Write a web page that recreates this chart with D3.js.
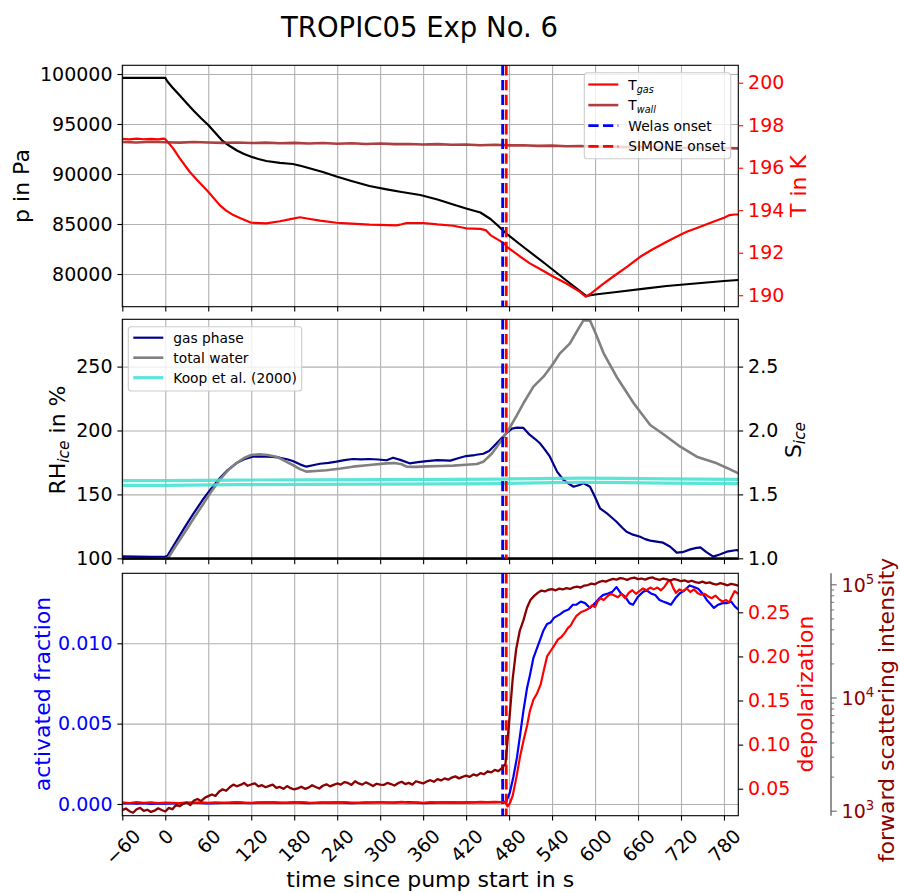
<!DOCTYPE html>
<html>
<head>
<meta charset="utf-8">
<script src="https://cdn.jsdelivr.net/npm/d3@7"></script>
<style>
  body { margin: 0; background: #fff; }
  svg { display: block; font-family: "DejaVu Sans", sans-serif; }
</style>
</head>
<body>
<svg id="fig" width="900" height="893"></svg>
<script>
// ---------- tick values ----------
const xTicks = [-60, 0, 60, 120, 180, 240, 300, 360, 420, 480, 540, 600, 660, 720, 780];
const pressureTicks = [80000, 85000, 90000, 95000, 100000];
const tempTicks = [190, 192, 194, 196, 198, 200];
const rhTicks = [100, 150, 200, 250];
const sIceTicks = [1.0, 1.5, 2.0, 2.5];
const afTicks = [0.000, 0.005, 0.010];
const depolTicks = [0.05, 0.10, 0.15, 0.20, 0.25];
const fsiMajorTicks = [1e3, 1e4, 1e5];
const fsiMinorTicks = [2e3, 3e3, 4e3, 5e3, 6e3, 7e3, 8e3, 9e3, 2e4, 3e4, 4e4, 5e4, 6e4, 7e4, 8e4, 9e4];

// ---------- onset times (s) ----------
const welasOnset = 471;
const simoneOnset = 476;
const iceSaturation = 100;

// ---------- chamber pressure (Pa) ----------
const pressureTime = [-60,-30,0,3,10,20,30,40,50,60,70,80,90,100,110,120,130,141,160,178,190,200,220,239,260,285,309,330,356,380,402,420,440,454,465,476,500,530,560,588,600,630,672,700,740,780,800];
const pressureVal = [99620,99620,99610,99250,98650,97870,97070,96300,95580,94900,94100,93300,92800,92350,92000,91730,91500,91300,91120,91000,90800,90600,90200,89750,89300,88800,88470,88200,87900,87450,86950,86550,86150,85500,84800,84050,82700,81050,79350,77800,77950,78200,78570,78800,79050,79300,79400];

// ---------- gas temperature (K) ----------
const tGasTime = [-60,-50,-40,-30,-20,-10,-2,0,5,11,20,34,45,60,76,85,95,105,120,141,160,175,188,200,216,239,260,285,310,323,330,337,360,380,402,420,440,448,454,473,477,496,509,525,542,560,579,587,595,610,625,645,663,680,700,715,728,745,765,780,788,795,800];
const tGasVal = [197.36,197.33,197.37,197.34,197.36,197.33,197.37,197.34,197.15,196.91,196.45,195.81,195.40,194.87,194.24,193.98,193.77,193.62,193.41,193.38,193.48,193.58,193.67,193.60,193.51,193.41,193.37,193.32,193.30,193.29,193.34,193.40,193.40,193.33,193.27,193.15,193.12,193.05,192.83,192.44,192.28,191.81,191.50,191.20,190.87,190.55,190.16,189.93,190.10,190.50,190.87,191.35,191.81,192.15,192.52,192.78,192.99,193.20,193.46,193.65,193.77,193.80,193.80];

// ---------- wall temperature (K) ----------
const tWallTime = [-60,-40,-20,0,20,40,60,80,100,120,140,160,180,200,220,240,260,280,300,320,340,360,380,400,420,440,460,480,500,520,540,560,580,600,620,640,660,680,700,720,740,760,780,800];
const tWallVal = [197.21,197.19,197.22,197.20,197.18,197.21,197.19,197.17,197.19,197.16,197.18,197.15,197.17,197.14,197.16,197.13,197.15,197.12,197.14,197.11,197.12,197.09,197.11,197.08,197.09,197.06,197.08,197.05,197.06,197.03,197.04,197.01,197.02,196.99,197.00,196.97,196.98,196.95,196.96,196.93,196.95,196.92,196.93,196.91];

// ---------- RH ice, gas phase (%) ----------
const gasTime = [-60,-40,-20,0,3,15,29,40,52,64,76,87,99,110,122,131,141,150,160,170,178,188,197,206,216,228,239,250,262,273,285,297,309,318,328,341,353,365,380,398,410,420,432,444,452,458,466,477,484,491,500,509,516,523,530,537,547,556,563,570,577,584,593,600,607,618,630,637,644,653,663,670,677,686,695,705,714,722,733,740,747,755,765,774,784,798,800];
const gasVal = [101.5,101.3,101.2,101.4,102,113,126,135.5,145.6,154.5,162.6,169,174.3,177.5,179.5,179.8,179.5,179.3,178.7,177.5,176.1,173.5,171.7,172.8,174,174.7,175.6,176.8,177.7,177.4,177.7,177.3,176.7,178.7,177,174.3,175.2,176.1,176.8,176.4,178.5,180,180.8,181.8,184,187.3,192,198.3,201.5,202.2,202,196.5,193.5,190,185,179.5,167.8,161.3,158.5,156,157.2,158.7,156,148,139,134.5,128.6,124.5,120.8,118.5,116.9,115,113.8,113,112.2,109,104.4,104.8,107,108,108.6,105,101.3,103,105.2,106.5,106];

// ---------- RH ice, total water (%) ----------
const totalTime = [-60,-30,0,3,15,29,40,52,64,76,87,99,110,120,131,143,155,166,178,188,197,210,225,245,262,285,309,320,330,337,350,365,385,402,420,435,444,449,456,463,470,479,490,500,514,528,540,551,565,575,584,593,600,612,630,654,677,695,719,742,770,785,798,800];
const totalVal = [98.8,98.7,98.8,99.3,110,122,131.5,141.7,152,161.3,168.5,174.3,178.5,180.8,181.4,180.8,179.5,176.5,173,169.8,167.8,168.3,168.9,170.2,171.7,173,174.3,174.5,173.6,171.7,171.5,171.9,172.2,172.5,173.2,173.8,175.6,178.2,182,187.3,193,200.4,211,221.3,234.3,242.1,251,260.4,268.2,278,286.3,286,277,260.4,242.1,221.3,204.3,197.3,187.3,179.5,174.3,170.5,167,166.5];

// ---------- Koop et al. (2000) homogeneous freezing threshold (%) ----------
const koopTime = [-60,0,100,200,300,400,470,520,580,640,700,800];
const koopGasVal = [160.8,160.8,161.2,161.4,161.6,161.8,162.0,162.4,162.8,162.6,162.2,161.8];
const koopWallVal = [157.0,157.0,157.6,157.9,158.1,158.3,158.5,159.0,159.5,159.2,158.8,158.4];

// ---------- activated fraction ----------
const afTime = [-60,-50,-40,-30,-20,-10,0,20,40,60,80,100,120,140,160,180,200,220,240,260,280,300,320,340,360,380,400,420,440,460,470,476,481,486,491,496,500,505,509,514,519,524,528,533,538,543,551,557,563,569,574,580,586,593,600,606,611,618,624,630,636,642,648,653,660,667,672,678,684,690,695,701,706,712,718,725,732,738,744,750,756,762,766,772,778,784,790,795,800];
const afVal = [0.00003,0.00006,0.00002,0.00005,0.00001,0.00004,0.00002,0.00005,0.00008,0.00004,0.00007,0.00009,0.00006,0.0001,0.00007,0.0001,0.00006,0.00008,0.0001,0.00005,0.00009,0.00011,0.00008,0.00012,0.00005,0.00009,0.0001,0.00008,0.00011,0.0001,0.00012,0.00015,0.0007,0.0017,0.0029,0.0045,0.0058,0.0072,0.0080,0.0091,0.0097,0.0103,0.0108,0.0112,0.0113,0.0116,0.0118,0.0120,0.0121,0.0124,0.0124,0.0126,0.0125,0.0122,0.0125,0.0128,0.0130,0.0131,0.0132,0.0135,0.0131,0.0129,0.0125,0.0124,0.0129,0.0132,0.0133,0.0131,0.0130,0.0127,0.0126,0.0125,0.0124,0.0128,0.0131,0.0133,0.0136,0.0135,0.0134,0.0131,0.0127,0.0124,0.0122,0.0124,0.0125,0.0125,0.0126,0.0123,0.0121];

// ---------- depolarization ----------
const depolTime = [-60,-50,-40,-30,-20,-10,0,10,20,30,40,50,60,70,80,90,100,110,120,130,140,150,160,170,180,190,200,210,220,230,240,250,260,270,280,290,300,310,320,330,340,350,360,370,380,390,400,410,420,430,440,450,460,470,
  475,478,481,485,490,495,500,505,509,514,519,524,529,533,537,542,548,553,558,562,566,570,574,580,586,591,596,600,604,608,612,617,622,627,632,637,642,647,652,657,662,667,672,677,682,687,692,697,702,705,709,713,718,723,728,733,738,743,748,753,758,763,768,773,778,783,787,791,795,800];
const depolVal = [0.0345,0.0338,0.0348,0.0341,0.0346,0.0337,0.0343,0.0339,0.0336,0.0342,0.0338,0.0344,0.0340,0.0346,0.0341,0.0343,0.0348,0.0342,0.0339,0.0345,0.0341,0.0347,0.0342,0.0338,0.0344,0.0349,0.0343,0.0340,0.0346,0.0341,0.0344,0.0348,0.0343,0.0339,0.0345,0.0342,0.0347,0.0341,0.0344,0.0350,0.0343,0.0346,0.0341,0.0347,0.0344,0.0349,0.0345,0.0342,0.0348,0.0346,0.0351,0.0347,0.0352,0.0349,
  0.034,0.030,0.0335,0.042,0.062,0.085,0.104,0.121,0.138,0.151,0.158,0.168,0.186,0.200,0.205,0.211,0.219,0.222,0.227,0.232,0.235,0.241,0.246,0.250,0.252,0.254,0.258,0.256,0.263,0.266,0.264,0.268,0.271,0.269,0.267,0.271,0.266,0.272,0.275,0.271,0.274,0.277,0.275,0.278,0.276,0.278,0.275,0.279,0.285,0.286,0.278,0.272,0.276,0.274,0.277,0.273,0.276,0.272,0.270,0.271,0.268,0.266,0.269,0.265,0.262,0.264,0.261,0.268,0.274,0.271];

// ---------- forward scattering intensity (counts) ----------
const fsiTime = [-60,-55,-50,-45,-40,-35,-30,-25,-20,-15,-10,-5,0,5,10,15,20,25,30,35,40,45,50,55,60,65,70,75,80,85,90,95,100,105,110,115,120,125,130,135,140,145,150,155,160,165,170,175,180,185,190,195,200,205,210,215,220,225,230,235,240,245,250,255,260,265,270,275,280,285,290,295,300,305,310,315,320,325,330,335,340,345,350,355,360,365,370,375,380,385,390,395,400,405,410,415,420,425,430,435,440,445,450,455,460,465,470,475,480,485,490,495,500,505,510,515,520,525,530,535,540,545,550,555,560,565,570,575,580,585,590,595,600,605,610,615,620,625,630,635,640,645,650,655,660,665,670,675,680,685,690,695,700,705,710,715,720,725,730,735,740,745,750,755,760,765,770,775,780,785,790,795,800];
const fsiVal = [1010,1045,990,960,1030,1060,995,1020,975,1000,1050,1015,985,
  1060,1030,1125,1095,1150,1180,1120,1230,1270,1215,1300,1345,
  1390,1350,1470,1545,1500,1610,1700,1645,1690,1760,1660,1705,
  1745,1640,1680,1610,1655,1700,1590,1620,1560,1650,1580,1540,
  1575,1630,1560,1600,1680,1620,1570,1660,1710,1640,1690,1740,
  1700,1790,1760,1690,1820,1740,1700,1780,1720,1650,1730,1700,
  1690,1760,1720,1670,1750,1800,1720,1760,1700,1820,1780,1740,
  1810,1860,1800,1900,1850,1930,1880,1960,2010,1930,1990,2040,
  1990,2090,2040,2150,2100,2230,2180,2290,2240,2380,
  2600,6000,14500,27000,39000,48000,62000,73000,79000,84000,88000,86500,89500,90500,88500,91500,90000,92500,91000,94000,95500,93500,97500,98500,101500,100000,104500,107000,105500,109000,111500,110000,113500,112000,109500,113000,114500,111000,112500,110000,113500,115000,111500,109500,112500,110500,108000,111000,109500,106500,108500,105000,107500,104500,103000,105500,102500,104000,101000,99500,102500,100500,98000,101000,99500,97500];

// ---------- layout ----------
const FONT = '"DejaVu Sans", sans-serif';
const TICK_FS = 19, LABEL_FS = 22, LEGEND_FS = 13.8;
const TICK_LEN = 4.9, TICK_PAD = 4.9;
const L = 122.3, R = 738.3;
const PANELS = { top: [65.3, 306.7], mid: [319.3, 559.3], bot: [573.3, 815.7] };
const GRID = '#b0b0b0';
const C = {
  pressure: '#000000', tGas: '#ff0000', tWall: '#a52a2a',
  gas: '#00008b', total: '#808080', koop: '#40e0d0',
  af: '#0000ff', depol: '#ff0000', fsi: '#8b0000',
  welas: '#0000ff', simone: '#ff0000', thirdSpine: '#666666'
};

const svg = d3.select('#fig');
const zip = (t, v) => t.map((d, i) => [d, v[i]]);

const x = d3.scaleLinear().domain([-60, 800]).range([L, R]);

const yP = d3.scaleLinear().domain([76730, 100870]).range([PANELS.top[1], PANELS.top[0]]);
const yT = d3.scaleLinear().domain([189.46, 200.82]).range([PANELS.top[1], PANELS.top[0]]);
const yRH = d3.scaleLinear().domain([99.22, 287.0]).range([PANELS.mid[1], PANELS.mid[0]]);
const yS = d3.scaleLinear().domain([0.9922, 2.870]).range([PANELS.mid[1], PANELS.mid[0]]);
const yAF = d3.scaleLinear().domain([-0.000728, 0.014356]).range([PANELS.bot[1], PANELS.bot[0]]);
const yD = d3.scaleLinear().domain([0.01939, 0.29422]).range([PANELS.bot[1], PANELS.bot[0]]);
const yF = d3.scaleLog().domain([Math.pow(10, 2.9558), Math.pow(10, 5.0972)]).range([PANELS.bot[1], PANELS.bot[0]]);

const defs = svg.append('defs');
Object.entries(PANELS).forEach(([k, [y0, y1]]) => {
  defs.append('clipPath').attr('id', 'clip-' + k)
    .append('rect').attr('x', L).attr('y', y0).attr('width', R - L).attr('height', y1 - y0);
});

function styleAxis(g, tickColor, labelColor) {
  g.attr('font-family', FONT).attr('font-size', TICK_FS);
  g.select('.domain').remove();
  g.selectAll('.tick line').attr('stroke', tickColor).attr('stroke-width', 1.1);
  g.selectAll('.tick text').attr('fill', labelColor);
}

function drawGrid(key, yScale, yTicks) {
  const [y0, y1] = PANELS[key];
  const g = svg.append('g').attr('class', 'grid');
  const gx = g.append('g').attr('transform', `translate(0,${y1})`)
    .call(d3.axisBottom(x).tickValues(xTicks).tickSize(-(y1 - y0)).tickFormat(''));
  const gy = g.append('g').attr('transform', `translate(${L},0)`)
    .call(d3.axisLeft(yScale).tickValues(yTicks).tickSize(-(R - L)).tickFormat(''));
  [gx, gy].forEach(a => {
    a.select('.domain').remove();
    a.selectAll('.tick line').attr('stroke', GRID).attr('stroke-width', 1.1);
  });
}

function drawLine(key, data, yScale, color, width, opacity) {
  svg.append('path')
    .attr('clip-path', `url(#clip-${key})`)
    .attr('d', d3.line().x(d => x(d[0])).y(d => yScale(d[1]))(data))
    .attr('fill', 'none').attr('stroke', color).attr('stroke-width', width)
    .attr('stroke-opacity', opacity == null ? 1 : opacity)
    .attr('stroke-linejoin', 'round').attr('stroke-linecap', 'butt');
}

function drawOnsets(key) {
  const [y0, y1] = PANELS[key];
  [[welasOnset, C.welas], [simoneOnset, C.simone]].forEach(([t, col]) => {
    svg.append('line').attr('x1', x(t)).attr('x2', x(t)).attr('y1', y0).attr('y2', y1)
      .attr('stroke', col).attr('stroke-width', 2.8).attr('stroke-dasharray', '10.3 4.4');
  });
}

function drawFrame(key) {
  const [y0, y1] = PANELS[key];
  svg.append('rect').attr('x', L).attr('y', y0).attr('width', R - L).attr('height', y1 - y0)
    .attr('fill', 'none').attr('stroke', '#000').attr('stroke-width', 1.1);
}

function xTickMarks(key, withLabels) {
  const y1 = PANELS[key][1];
  const g = svg.append('g').attr('transform', `translate(0,${y1})`)
    .call(d3.axisBottom(x).tickValues(xTicks).tickSize(TICK_LEN).tickPadding(TICK_PAD)
      .tickFormat(d => withLabels ? (d < 0 ? '\u2212' + Math.abs(d) : String(d)) : ''));
  styleAxis(g, '#000', '#000');
  if (withLabels) {
    g.selectAll('.tick text').each(function () {
      const w = this.getComputedTextLength();
      const h = 1.07 * TICK_FS;
      const off = TICK_LEN + TICK_PAD + (w + h) / (2 * Math.SQRT2);
      d3.select(this).attr('y', 0).attr('dy', '0.36em').attr('text-anchor', 'middle')
        .attr('transform', `translate(0,${off}) rotate(-45)`);
    });
  }
}

function yAxisLeft(scale, ticks, fmt, labelColor) {
  const g = svg.append('g').attr('transform', `translate(${L},0)`)
    .call(d3.axisLeft(scale).tickValues(ticks).tickSize(TICK_LEN).tickPadding(TICK_PAD).tickFormat(fmt));
  styleAxis(g, '#000', labelColor);
  return g;
}
function yAxisRight(scale, ticks, fmt, tickColor, labelColor, xPos) {
  const g = svg.append('g').attr('transform', `translate(${xPos == null ? R : xPos},0)`)
    .call(d3.axisRight(scale).tickValues(ticks).tickSize(TICK_LEN).tickPadding(TICK_PAD).tickFormat(fmt));
  styleAxis(g, tickColor, labelColor);
  return g;
}

// rotated axis title, reading bottom to top
function yTitle(xPos, yPos, parts, color) {
  const t = svg.append('text').attr('transform', `translate(${xPos},${yPos}) rotate(-90)`)
    .attr('text-anchor', 'middle').attr('font-family', FONT).attr('font-size', LABEL_FS).attr('fill', color);
  parts.forEach(p => {
    const s = t.append('tspan').text(p.text);
    if (p.sub) s.attr('font-size', LABEL_FS * 0.7).attr('font-style', 'italic').attr('dy', 4);
    if (p.after) s.attr('dy', -4);
  });
  return t;
}

// ================= TOP PANEL: pressure and temperatures =================
drawGrid('top', yP, pressureTicks);
drawLine('top', zip(pressureTime, pressureVal), yP, C.pressure, 2.2);
drawLine('top', zip(tGasTime, tGasVal), yT, C.tGas, 2.2);
drawLine('top', zip(tWallTime, tWallVal), yT, C.tWall, 2.6, 0.9);
drawOnsets('top');
drawFrame('top');
xTickMarks('top', false);
yAxisLeft(yP, pressureTicks, d3.format('d'), '#000');
yAxisRight(yT, tempTicks, d3.format('d'), C.tGas, C.tGas);
yTitle(29, 186, [{ text: 'p in Pa' }], '#000');
yTitle(806, 186, [{ text: 'T in K' }], C.tGas);

// ================= MIDDLE PANEL: relative humidity =================
drawGrid('mid', yRH, rhTicks);
drawLine('mid', zip(gasTime, gasVal), yRH, C.gas, 2.2);
drawLine('mid', zip(totalTime, totalVal), yRH, C.total, 2.6);
drawLine('mid', zip(koopTime, koopGasVal), yRH, C.koop, 3.2, 0.85);
drawLine('mid', zip(koopTime, koopWallVal), yRH, C.koop, 3.2, 0.85);
drawLine('mid', [[-60, iceSaturation], [800, iceSaturation]], yRH, '#000', 2.0);
drawOnsets('mid');
drawFrame('mid');
xTickMarks('mid', false);
yAxisLeft(yRH, rhTicks, d3.format('d'), '#000');
yAxisRight(yS, sIceTicks, d3.format('.1f'), '#000', '#000');
yTitle(65, 440, [{ text: 'RH' }, { text: 'ice', sub: true }, { text: ' in %', after: true }], '#000');
yTitle(801, 440, [{ text: 'S' }, { text: 'ice', sub: true }], '#000');

// ================= BOTTOM PANEL: ice nucleation indicators =================
drawGrid('bot', yAF, afTicks);
drawLine('bot', zip(afTime, afVal), yAF, C.af, 2.2);
drawOnsets('bot');
drawLine('bot', zip(depolTime, depolVal), yD, C.depol, 2.2);
drawLine('bot', zip(fsiTime, fsiVal), yF, C.fsi, 2.3);
drawFrame('bot');
xTickMarks('bot', true);
yAxisLeft(yAF, afTicks, d3.format('.3f'), C.af);
yAxisRight(yD, depolTicks, d3.format('.2f'), '#000', C.depol);

// third (log) axis for forward scattering
const X3 = 831;
svg.append('line').attr('x1', X3).attr('x2', X3).attr('y1', PANELS.bot[0]).attr('y2', PANELS.bot[1])
  .attr('stroke', C.thirdSpine).attr('stroke-width', 1.4);
const gMinor = svg.append('g').attr('transform', `translate(${X3},0)`)
  .call(d3.axisRight(yF).tickValues(fsiMinorTicks).tickSize(3.2).tickFormat(''));
styleAxis(gMinor, C.thirdSpine, C.fsi);
gMinor.selectAll('.tick line').attr('stroke-width', 0.9);
const gMajor = svg.append('g').attr('transform', `translate(${X3},0)`)
  .call(d3.axisRight(yF).tickValues(fsiMajorTicks).tickSize(5.7).tickPadding(TICK_PAD).tickFormat(''));
styleAxis(gMajor, C.thirdSpine, C.fsi);
gMajor.selectAll('.tick').each(function (d) {
  const t = d3.select(this).append('text').attr('x', 5.7 + TICK_PAD).attr('dy', '0.36em')
    .attr('fill', C.fsi).attr('font-family', FONT).attr('font-size', TICK_FS);
  t.append('tspan').text('10');
  t.append('tspan').text(String(Math.round(Math.log10(d)))).attr('font-size', TICK_FS * 0.7).attr('dy', -8);
});

yTitle(50, 694, [{ text: 'activated fraction' }], C.af);
yTitle(813, 694, [{ text: 'depolarization' }], C.depol);
yTitle(894, 710, [{ text: 'forward scattering intensity' }], C.fsi);

// ================= titles =================
svg.append('text').attr('x', 419.5).attr('y', 37).attr('text-anchor', 'middle')
  .attr('font-family', FONT).attr('font-size', 27.5).attr('fill', '#000').text('TROPIC05 Exp No. 6');
svg.append('text').attr('x', (L + R) / 2).attr('y', 887).attr('text-anchor', 'middle')
  .attr('font-family', FONT).attr('font-size', LABEL_FS).attr('fill', '#000').text('time since pump start in s');

// ================= legends =================
function legend(box, rows) {
  const g = svg.append('g');
  g.append('rect').attr('x', box.x).attr('y', box.y).attr('width', box.w).attr('height', box.h)
    .attr('rx', 3).attr('fill', '#fff').attr('fill-opacity', 0.8).attr('stroke', '#cccccc').attr('stroke-width', 1.1);
  rows.forEach((r, i) => {
    const cy = box.row0 + i * box.dy;
    g.append('line').attr('x1', box.lx0).attr('x2', box.lx1).attr('y1', cy).attr('y2', cy)
      .attr('stroke', r.color).attr('stroke-width', r.width || 2.2)
      .attr('stroke-dasharray', r.dash ? '10.3 4.4' : null)
      .attr('stroke-opacity', r.opacity == null ? 1 : r.opacity);
    const t = g.append('text').attr('x', box.tx).attr('y', cy + 5)
      .attr('font-family', FONT).attr('font-size', LEGEND_FS).attr('fill', '#000');
    t.append('tspan').text(r.label);
    if (r.sub) t.append('tspan').text(r.sub).attr('font-style', 'italic').attr('font-size', LEGEND_FS * 0.7).attr('dy', 3);
  });
}

legend({ x: 584.3, y: 72.7, w: 146.4, h: 86, row0: 84.5, dy: 20.6, lx0: 588.3, lx1: 618.3, tx: 628.3 }, [
  { label: 'T', sub: 'gas', color: C.tGas },
  { label: 'T', sub: 'wall', color: C.tWall, width: 2.6, opacity: 0.9 },
  { label: 'Welas onset', color: C.welas, dash: true, width: 2.8 },
  { label: 'SIMONE onset', color: C.simone, dash: true, width: 2.8 }
]);

legend({ x: 128.3, y: 326.7, w: 173.4, h: 64.3, row0: 337.7, dy: 20, lx0: 133.3, lx1: 163.3, tx: 173.3 }, [
  { label: 'gas phase', color: C.gas },
  { label: 'total water', color: C.total, width: 2.6 },
  { label: 'Koop et al. (2000)', color: C.koop, width: 3.2, opacity: 0.85 }
]);
</script>
</body>
</html>
